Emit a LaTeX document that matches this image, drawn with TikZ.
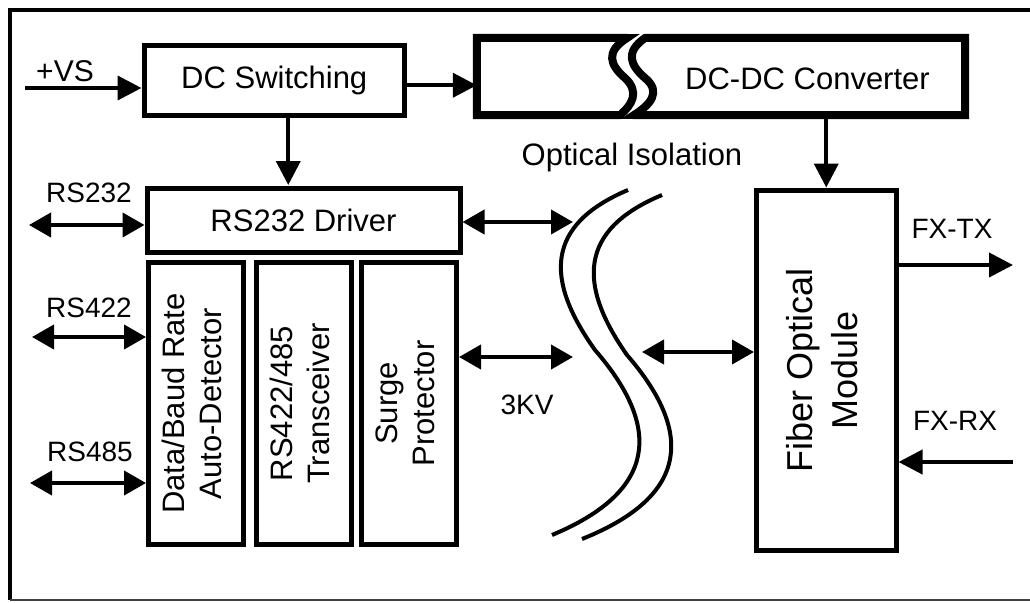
\documentclass[tikz,border=0pt]{standalone}
\usepackage{fontspec}
\setmainfont{Liberation Sans}
\usetikzlibrary{arrows.meta, calc}
\tikzset{
  blk/.style={rectangle, draw, line width=5pt, inner sep=0pt, font=\fontsize{31}{37}\selectfont},
  txt/.style={inner sep=0pt, font=\fontsize{31}{37}\selectfont},
  lbl/.style={inner sep=0pt, font=\fontsize{28}{32}\selectfont},
  arr/.style={line width=4pt, -{Triangle[length=24pt, width=24pt]}},
  biarr/.style={line width=4pt, {Triangle[length=22pt, width=24pt]}-{Triangle[length=22pt, width=24pt]}},
  isoline/.style={line width=4pt},
  brk/.style={line width=8pt, line join=miter},
}
\newcommand{\vtext}[1]{\rotatebox{90}{\begin{tabular}{@{}c@{}}#1\end{tabular}}}

\begin{document}
\begin{tikzpicture}[x=1pt, y=-1pt]
  \useasboundingbox (0,0) rectangle (1030,602);

  % --- FRAME ---
  \draw[line width=4pt] (1030,10) -- (9.5,10) -- (9.5,600);
  \draw[line width=2.5pt, black!75] (9.5,600) -- (1030,600);

  % --- POWER PATH ---
  \node[blk, minimum width=260.5pt, minimum height=69.5pt] (dcsw) at (274.25,80.25) {DC Switching};
  \node[minimum width=488pt, minimum height=77pt, inner sep=0pt] (dcdc) at (721,76.5) {};
  \draw[brk] (dcdc.north west) -- (627,38)
    .. controls (605,52) and (610,65) .. (625,78)
    .. controls (640,92) and (632,105) .. (620,115) -- (dcdc.south west) -- cycle;
  \draw[brk] (645,38) -- (dcdc.north east) -- (dcdc.south east) -- (634,115)
    .. controls (650,105) and (662,92) .. (645,78)
    .. controls (630,65) and (625,52) .. (645,38) -- cycle;
  \node[txt] (dcdctxt) at (807.5,79) {DC-DC Converter};

  \coordinate (vs) at (25,88);
  \node[lbl, font=\fontsize{30}{34}\selectfont] (vslbl) at (65,71) {+VS};
  \draw[arr] (vs) -- (vs -| dcsw.west);
  \draw[arr] ([yshift=-5pt]dcsw.east) -- ([yshift=-5pt]dcsw.east -| dcdc.west);
  \draw[arr] ([xshift=14pt]dcsw.south) -- ([xshift=14pt]dcsw.south |- 0,185);

  % --- SERIAL SIDE ---
  \node[blk, minimum width=313pt, minimum height=64pt] (driver) at (303.5,220) {RS232 Driver};
  \node[blk, minimum width=95pt, minimum height=282pt] (detect) at (196,403.5)
    {\vtext{Data/Baud Rate\\Auto-Detector}};
  \node[blk, minimum width=94.5pt, minimum height=282pt] (xcvr) at (303.75,403.5)
    {\vtext{RS422/485\\Transceiver}};
  \node[blk, minimum width=95pt, minimum height=282pt] (surge) at (409,403.5)
    {\vtext{Surge\\Protector}};

  \coordinate (in232) at (29,225);
  \coordinate (in422) at (32,337);
  \coordinate (in485) at (30,483);
  \node[lbl] (l232) at (89,193) {RS232};
  \node[lbl] (l422) at (89,308) {RS422};
  \node[lbl] (l485) at (90,452) {RS485};
  \draw[biarr] (in232) -- (in232 -| driver.west);
  \draw[biarr] (in422) -- (in422 -| detect.west);
  \draw[biarr] (in485) -- (in485 -| detect.west);

  % --- ISOLATION ---
  \draw[isoline] (628,190) .. controls (545,225) and (545,280) .. (595,350)
    .. controls (660,425) and (660,490) .. (552,535);
  \draw[isoline] (662,195) .. controls (578,230) and (578,285) .. (627,355)
    .. controls (692,430) and (692,495) .. (582,539);
  \node[txt] (isolbl) at (632,157) {Optical Isolation};
  \node[lbl] (kv) at (527,405) {3KV};

  \coordinate (iso-a) at (573,222);
  \coordinate (iso-b) at (573,357);
  \coordinate (iso-c) at (642,352);
  \draw[biarr] (iso-a -| driver.east) -- (iso-a);
  \draw[biarr] (iso-b -| surge.east) -- (iso-b);

  % --- FIBER SIDE ---
  \node[blk, minimum width=139.5pt, minimum height=360pt,
    font=\fontsize{36}{45}\selectfont] (fiber) at (826.25,370)
    {\vtext{Fiber Optical\\Module}};
  \draw[biarr] (iso-c) -- (iso-c -| fiber.west);
  \draw[arr] (fiber.north |- dcdc.south) -- (fiber.north);

  \coordinate (tx) at (1013,265);
  \coordinate (rx) at (1013,462);
  \node[lbl] (txlbl) at (952,229) {FX-TX};
  \node[lbl] (rxlbl) at (955,421) {FX-RX};
  \draw[arr] (tx -| fiber.east) -- (tx);
  \draw[arr] (rx) -- (rx -| fiber.east);

\end{tikzpicture}
\end{document}
